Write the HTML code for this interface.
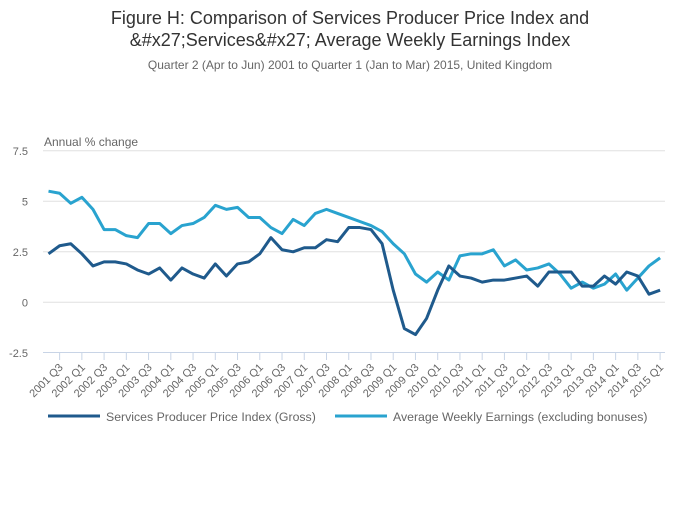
<!DOCTYPE html>
<html><head><meta charset="utf-8"><style>
body{margin:0;background:#fff;width:700px;height:502px;overflow:hidden;font-family:"Liberation Sans",sans-serif}
</style></head><body>
<svg width="700" height="502">
<text x="350" y="24" text-anchor="middle" font-size="18" fill="#333">Figure H: Comparison of Services Producer Price Index and</text>
<text x="350" y="46" text-anchor="middle" font-size="18" fill="#333">&amp;#x27;Services&amp;#x27; Average Weekly Earnings Index</text>
<text x="350" y="69" text-anchor="middle" font-size="12" fill="#666">Quarter 2 (Apr to Jun) 2001 to Quarter 1 (Jan to Mar) 2015, United Kingdom</text>
<text x="44" y="146" font-size="12" fill="#666">Annual % change</text>
<g id="grid"></g><g id="xaxis"></g><g id="lines"></g>
<g>
<line x1="48" y1="416" x2="100" y2="416" stroke="#1f5a8c" stroke-width="3"/>
<text x="106" y="421" font-size="12.3" fill="#666">Services Producer Price Index (Gross)</text>
<line x1="335" y1="416" x2="387" y2="416" stroke="#29a3cf" stroke-width="3"/>
<text x="393" y="421" font-size="12.3" fill="#666">Average Weekly Earnings (excluding bonuses)</text>
</g>
</svg>
<script>
const yTicks=[7.5,5,2.5,0,-2.5];
const yTickLabels=["7.5","5","2.5","0","-2.5"];
const sppi=[2.4,2.8,2.9,2.4,1.8,2.0,2.0,1.9,1.6,1.4,1.7,1.1,1.7,1.4,1.2,1.9,1.3,1.9,2.0,2.4,3.2,2.6,2.5,2.7,2.7,3.1,3.0,3.7,3.7,3.6,2.9,0.6,-1.3,-1.6,-0.8,0.6,1.8,1.3,1.2,1.0,1.1,1.1,1.2,1.3,0.8,1.5,1.5,1.5,0.8,0.8,1.3,0.9,1.5,1.3,0.4,0.6];
const awe=[5.5,5.4,4.9,5.2,4.6,3.6,3.6,3.3,3.2,3.9,3.9,3.4,3.8,3.9,4.2,4.8,4.6,4.7,4.2,4.2,3.7,3.4,4.1,3.8,4.4,4.6,4.4,4.2,4.0,3.8,3.5,2.9,2.4,1.4,1.0,1.5,1.1,2.3,2.4,2.4,2.6,1.8,2.1,1.6,1.7,1.9,1.4,0.7,1.0,0.7,0.9,1.4,0.6,1.2,1.8,2.2];
const categories=[];
for(let y=2001;y<=2015;y++)for(let q=1;q<=4;q++){if((y===2001&&q<2)||(y===2015&&q>1))continue;categories.push(y+" Q"+q);}
const NS="http://www.w3.org/2000/svg";
const X0=48.5,DX=11.12,L=43,R=665;
const xs=i=>X0+i*DX;
const ys=v=>302.3-v*20.2;
function mk(t,a,p){const e=document.createElementNS(NS,t);for(const k in a)e.setAttribute(k,a[k]);p.appendChild(e);return e;}
const grid=document.getElementById('grid');
yTicks.forEach((v,i)=>{
 if(v>-2.5){const g=mk('line',{x1:L,x2:R,y1:ys(v),y2:ys(v),stroke:'#e0e0e0','stroke-width':1},grid);
 
 }
 const t=mk('text',{x:28,y:ys(v)+4,'text-anchor':'end','font-size':11,fill:'#666'},grid);
 t.textContent=yTickLabels[i];
 
 
});
const xa=document.getElementById('xaxis');
const ax=mk('line',{x1:L,x2:R,y1:352.5,y2:352.5,stroke:'#c8d4e6','stroke-width':1},xa);


categories.forEach((c,i)=>{
 if(i%2!==1)return;
 const x=xs(i);
 const tk=mk('line',{x1:x,x2:x,y1:352.5,y2:360,stroke:'#c8d4e6'},xa);
 
 
 const t=mk('text',{x:x+4,y:368,'text-anchor':'end','font-size':11,fill:'#666',transform:`rotate(-45 ${x+4} 368)`},xa);
 t.textContent=c;
 
 
});
const lg=document.getElementById('lines');
[[awe,'#29a3cf','awe-line'],[sppi,'#1f5a8c','sppi-line']].forEach(([d,col,n])=>{
 const p=mk('polyline',{points:d.map((v,i)=>xs(i)+','+ys(v)).join(' '),fill:'none',stroke:col,'stroke-width':3,'stroke-linejoin':'round'},lg);
 
 
});
</script>
</body></html>
